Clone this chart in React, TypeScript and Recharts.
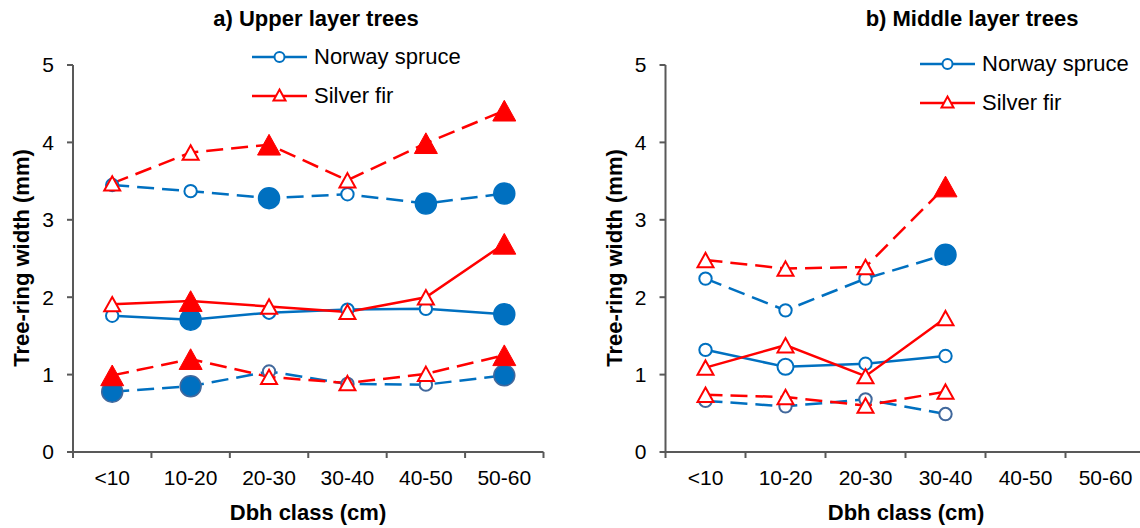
import React from "react";
import {Line, LineChart, XAxis, YAxis} from "recharts";

const FONT = '"Liberation Sans", Arial, sans-serif'
const BLUE = '#0070C0'
const RED = '#FF0000'
const AXIS = '#595959'

const categories = ['<10', '10-20', '20-30', '30-40', '40-50', '50-60']
const yTicks = [0, 1, 2, 3, 4, 5]

// a) upper layer trees (mm)
const upperSpruceTop = [3.45, 3.37, 3.28, 3.33, 3.21, 3.34]
const upperFirTop = [3.47, 3.87, 3.97, 3.51, 3.99, 4.41]
const upperSpruceMid = [1.76, 1.71, 1.80, 1.84, 1.85, 1.78]
const upperFirMid = [1.91, 1.95, 1.88, 1.81, 2.00, 2.69]
const upperSpruceLow = [0.78, 0.85, 1.04, 0.88, 0.87, 0.99]
const upperFirLow = [0.99, 1.20, 0.97, 0.89, 1.01, 1.25]

// b) middle layer trees (mm)
const middleSpruceTop = [2.24, 1.83, 2.24, 2.55, null, null]
const middleFirTop = [2.48, 2.37, 2.39, 3.43, null, null]
const middleSpruceMid = [1.32, 1.10, 1.14, 1.24, null, null]
const middleFirMid = [1.09, 1.38, 0.98, 1.73, null, null]
const middleSpruceLow = [0.66, 0.59, 0.68, 0.49, null, null]
const middleFirLow = [0.74, 0.71, 0.60, 0.78, null, null]

// marker kind per point: 0 small open, 1 large filled, 2 large open
const upperSpruceTopMarks = [0, 0, 1, 0, 1, 1]
const upperFirTopMarks = [0, 0, 1, 0, 1, 1]
const upperSpruceMidMarks = [0, 1, 0, 0, 0, 1]
const upperFirMidMarks = [0, 1, 0, 0, 0, 1]
const upperSpruceLowMarks = [1, 1, 0, 0, 0, 1]
const upperFirLowMarks = [1, 1, 0, 0, 0, 1]

const middleSpruceTopMarks = [0, 0, 0, 1]
const middleFirTopMarks = [0, 0, 0, 1]
const middleSpruceMidMarks = [0, 2, 0, 0]
const middleFirMidMarks = [0, 0, 0, 0]
const middleSpruceLowMarks = [0, 0, 0, 0]
const middleFirLowMarks = [0, 0, 0, 0]

const upperRows = categories.map((cat, i) => ({
  cat,
  st: upperSpruceTop[i], ft: upperFirTop[i],
  sm: upperSpruceMid[i], fm: upperFirMid[i],
  sl: upperSpruceLow[i], fl: upperFirLow[i],
}))

const middleRows = categories.map((cat, i) => ({
  cat,
  st: middleSpruceTop[i], ft: middleFirTop[i],
  sm: middleSpruceMid[i], fm: middleFirMid[i],
  sl: middleSpruceLow[i], fl: middleFirLow[i],
}))

const TICK_SIZE = 6
const TICK_MARGIN = 12
const DASH = '17 8'

function triangle(cx: number, cy: number, w: number) {
  const h = w * 0.9
  return `M${cx},${cy - h / 2} L${cx + w / 2},${cy + h / 2} L${cx - w / 2},${cy + h / 2} Z`
}

function Marker({cx, cy, kind, shape, color, edge}: any) {
  if (shape === 'circle') {
    if (kind === 1) return <circle cx={cx} cy={cy} r={10.5} fill={color} stroke={edge ?? color} strokeWidth={1.5}/>
    const r = kind === 2 ? 8 : 6.2
    return <circle cx={cx} cy={cy} r={r} fill="#fff" stroke={edge ?? color} strokeWidth={2}/>
  }
  if (kind === 1) return <path d={triangle(cx, cy, 23)} fill={color} stroke={color} strokeWidth={1}/>
  return <path d={triangle(cx, cy, kind === 2 ? 19 : 16)} fill="#fff" stroke={color} strokeWidth={2}/>
}

function makeDot(marks: number[], shape: string, color: string, edge?: string) {
  return (props: any) => {
    const {cx, cy, index, value} = props
    if (cx == null || cy == null || value == null) return <g key={`none-${index}`}/>
    return (
      <g key={`dot-${index}`}>
        <Marker cx={cx} cy={cy} kind={marks[index] ?? 0} shape={shape} color={color} edge={edge}/>
      </g>
    )
  }
}

// category labels in the middle, tick marks on the boundaries
function makeTick(half: number, count: number) {
  return (props: any) => {
    const {x, y, payload, index} = props
    const axisY = y - TICK_SIZE - TICK_MARGIN
    return (
      <g>
        <line x1={x - half} x2={x - half} y1={axisY} y2={axisY + TICK_SIZE} stroke={AXIS} strokeWidth={2}/>
        {index === count - 1 &&
          <line x1={x + half} x2={x + half} y1={axisY} y2={axisY + TICK_SIZE} stroke={AXIS} strokeWidth={2}/>}
        <text x={x} y={y} dy={15} textAnchor="middle" fontSize={21} fontFamily={FONT} fill="#000">
          {payload.value}
        </text>
      </g>
    )
  }
}

function Panel({rows, marks, width, axisWidth, right, half}: any) {
  return (
    <LineChart width={width} height={528} data={rows} margin={{top: 65, right, bottom: 0, left: 0}}>
      <XAxis
        dataKey="cat"
        scale="band"
        height={76}
        interval={0}
        tickLine={false}
        tickSize={TICK_SIZE}
        tickMargin={TICK_MARGIN}
        axisLine={{stroke: AXIS, strokeWidth: 2}}
        tick={makeTick(half, categories.length)}
      />
      <YAxis
        type="number"
        domain={[0, 5]}
        ticks={yTicks}
        width={axisWidth}
        tickSize={TICK_SIZE}
        tickMargin={13}
        axisLine={{stroke: AXIS, strokeWidth: 2}}
        tickLine={{stroke: AXIS, strokeWidth: 2}}
        tick={{fontSize: 21, fontFamily: FONT, fill: '#000'}}
      />
      <Line dataKey="st" stroke={BLUE} strokeWidth={2.5} strokeDasharray={DASH} isAnimationActive={false}
            dot={makeDot(marks.st, 'circle', BLUE)} activeDot={false}/>
      <Line dataKey="sm" stroke={BLUE} strokeWidth={2.5} isAnimationActive={false}
            dot={makeDot(marks.sm, 'circle', BLUE)} activeDot={false}/>
      <Line dataKey="sl" stroke={BLUE} strokeWidth={2.5} strokeDasharray={DASH} isAnimationActive={false}
            dot={makeDot(marks.sl, 'circle', BLUE, '#41689C')} activeDot={false}/>
      <Line dataKey="ft" stroke={RED} strokeWidth={2.5} strokeDasharray={DASH} isAnimationActive={false}
            dot={makeDot(marks.ft, 'triangle', RED)} activeDot={false}/>
      <Line dataKey="fm" stroke={RED} strokeWidth={2.5} isAnimationActive={false}
            dot={makeDot(marks.fm, 'triangle', RED)} activeDot={false}/>
      <Line dataKey="fl" stroke={RED} strokeWidth={2.5} strokeDasharray={DASH} isAnimationActive={false}
            dot={makeDot(marks.fl, 'triangle', RED)} activeDot={false}/>
    </LineChart>
  )
}

function LegendRows({x, y}: { x: number, y: number }) {
  const rows = [
    {label: 'Norway spruce', color: BLUE, shape: 'circle', dy: 0},
    {label: 'Silver fir', color: RED, shape: 'triangle', dy: 39},
  ]
  return (
    <g>
      {rows.map(r => (
        <g key={r.label}>
          <line x1={x} x2={x + 55} y1={y + r.dy} y2={y + r.dy} stroke={r.color} strokeWidth={2.5}/>
          {r.shape === 'circle'
            ? <circle cx={x + 27.5} cy={y + r.dy} r={5} fill="#fff" stroke={r.color} strokeWidth={2}/>
            : <path d={triangle(x + 27.5, y + r.dy - 1, 12)} fill="#fff" stroke={r.color} strokeWidth={2}/>}
          <text x={x + 62} y={y + r.dy} dy={7} fontSize={22} fontFamily={FONT} fill="#000">{r.label}</text>
        </g>
      ))}
    </g>
  )
}

const boldText: React.CSSProperties = {
  position: 'absolute', fontFamily: FONT, fontWeight: 'bold', fontSize: 22,
  whiteSpace: 'nowrap', transform: 'translate(-50%, -50%)', lineHeight: 1,
}

export default function App() {
  const upperMarks = {
    st: upperSpruceTopMarks, ft: upperFirTopMarks, sm: upperSpruceMidMarks,
    fm: upperFirMidMarks, sl: upperSpruceLowMarks, fl: upperFirLowMarks,
  }
  const middleMarks = {
    st: middleSpruceTopMarks, ft: middleFirTopMarks, sm: middleSpruceMidMarks,
    fm: middleFirMidMarks, sl: middleSpruceLowMarks, fl: middleFirLowMarks,
  }

  return (
    <div style={{
      position: 'absolute', left: 0, top: 0, width: 1140, height: 528,
      overflow: 'hidden', background: '#fff', fontFamily: FONT
    }}>
      <div style={{position: 'absolute', left: 0, top: 0}}>
        <Panel rows={upperRows} marks={upperMarks} width={570} axisWidth={73} right={26.5} half={39.2}/>
      </div>
      <div style={{position: 'absolute', left: 570, top: 0}}>
        <Panel rows={middleRows} marks={middleMarks} width={580} axisWidth={95.5} right={4.5} half={40}/>
      </div>

      <svg width={1140} height={528} style={{position: 'absolute', left: 0, top: 0, pointerEvents: 'none'}}>
        <LegendRows x={252} y={57}/>
        <LegendRows x={920} y={64}/>
      </svg>

      <div style={{...boldText, left: 316, top: 19}}>a) Upper layer trees</div>
      <div style={{...boldText, left: 972, top: 19}}>b) Middle layer trees</div>
      <div style={{...boldText, left: 308, top: 513}}>Dbh class (cm)</div>
      <div style={{...boldText, left: 906, top: 513}}>Dbh class (cm)</div>
      <div style={{...boldText, left: 22, top: 258, transform: 'translate(-50%, -50%) rotate(-90deg)'}}>
        Tree-ring width (mm)
      </div>
      <div style={{...boldText, left: 615, top: 258, transform: 'translate(-50%, -50%) rotate(-90deg)'}}>
        Tree-ring width (mm)
      </div>
    </div>
  )
}
